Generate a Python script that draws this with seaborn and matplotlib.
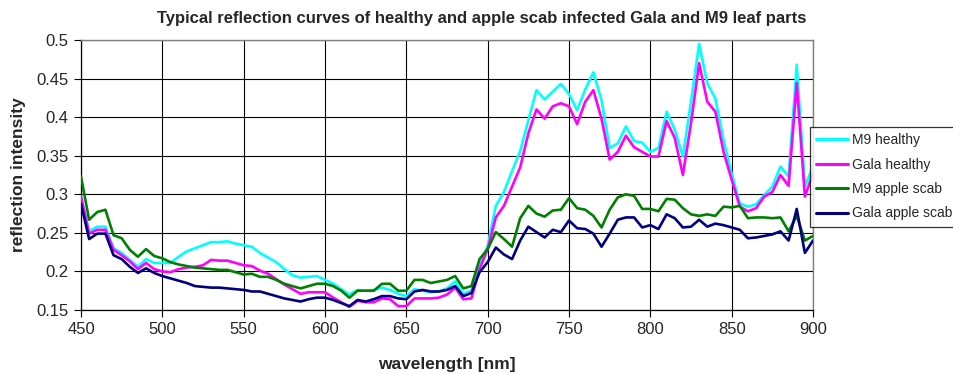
import numpy as np
import pandas as pd
import matplotlib
matplotlib.use("Agg")
import matplotlib.pyplot as plt
import seaborn as sns

wavelength = list(range(450, 901, 5))

m9_healthy = [
    0.297, 0.252, 0.258, 0.258, 0.230, 0.224, 0.215, 0.206, 0.216, 0.211,
    0.211, 0.211, 0.219, 0.226, 0.230, 0.234, 0.238, 0.238, 0.239, 0.236,
    0.234, 0.232, 0.224, 0.218, 0.212, 0.203, 0.195, 0.192, 0.193, 0.194,
    0.189, 0.184, 0.177, 0.170, 0.176, 0.175, 0.176, 0.179, 0.176, 0.171,
    0.168, 0.177, 0.175, 0.173, 0.174, 0.178, 0.187, 0.171, 0.175, 0.207,
    0.233, 0.285, 0.303, 0.330, 0.356, 0.396, 0.435, 0.423, 0.433, 0.443,
    0.430, 0.409, 0.436, 0.458, 0.422, 0.360, 0.366, 0.388, 0.369, 0.367,
    0.355, 0.360, 0.407, 0.384, 0.349, 0.420, 0.495, 0.444, 0.424, 0.370,
    0.327, 0.288, 0.284, 0.287, 0.299, 0.310, 0.336, 0.323, 0.468, 0.310,
    0.336,
]

gala_healthy = [
    0.297, 0.249, 0.254, 0.254, 0.228, 0.221, 0.213, 0.203, 0.211, 0.203,
    0.200, 0.199, 0.203, 0.205, 0.206, 0.208, 0.215, 0.214, 0.214, 0.211,
    0.208, 0.207, 0.201, 0.197, 0.190, 0.183, 0.177, 0.171, 0.173, 0.173,
    0.173, 0.166, 0.160, 0.154, 0.162, 0.160, 0.160, 0.165, 0.164, 0.155,
    0.155, 0.165, 0.165, 0.165, 0.166, 0.170, 0.179, 0.164, 0.165, 0.203,
    0.229, 0.270, 0.285, 0.310, 0.335, 0.379, 0.410, 0.398, 0.414, 0.418,
    0.414, 0.391, 0.420, 0.435, 0.398, 0.345, 0.355, 0.376, 0.361, 0.355,
    0.349, 0.349, 0.395, 0.373, 0.325, 0.392, 0.470, 0.420, 0.407, 0.355,
    0.319, 0.284, 0.278, 0.282, 0.297, 0.303, 0.325, 0.311, 0.444, 0.297,
    0.327,
]

m9_scab = [
    0.323, 0.267, 0.277, 0.280, 0.247, 0.243, 0.228, 0.219, 0.229, 0.220,
    0.217, 0.212, 0.209, 0.207, 0.205, 0.204, 0.203, 0.202, 0.202, 0.199,
    0.196, 0.197, 0.193, 0.193, 0.189, 0.184, 0.181, 0.178, 0.181, 0.184,
    0.184, 0.181, 0.175, 0.166, 0.175, 0.175, 0.175, 0.184, 0.184, 0.175,
    0.175, 0.189, 0.189, 0.185, 0.187, 0.189, 0.194, 0.178, 0.181, 0.216,
    0.229, 0.251, 0.242, 0.232, 0.269, 0.285, 0.275, 0.271, 0.279, 0.280,
    0.295, 0.282, 0.280, 0.272, 0.257, 0.280, 0.296, 0.300, 0.298, 0.281,
    0.281, 0.278, 0.294, 0.293, 0.282, 0.274, 0.272, 0.274, 0.272, 0.284,
    0.283, 0.285, 0.269, 0.270, 0.270, 0.269, 0.270, 0.252, 0.272, 0.240,
    0.246,
]

gala_scab = [
    0.288, 0.242, 0.249, 0.249, 0.221, 0.216, 0.206, 0.198, 0.204, 0.198,
    0.194, 0.191, 0.188, 0.185, 0.181, 0.180, 0.179, 0.179, 0.178, 0.177,
    0.176, 0.174, 0.174, 0.171, 0.168, 0.165, 0.163, 0.161, 0.164, 0.166,
    0.166, 0.163, 0.159, 0.155, 0.163, 0.161, 0.164, 0.168, 0.168, 0.165,
    0.164, 0.174, 0.176, 0.174, 0.174, 0.176, 0.181, 0.168, 0.172, 0.199,
    0.212, 0.231, 0.222, 0.216, 0.240, 0.258, 0.251, 0.244, 0.254, 0.251,
    0.266, 0.256, 0.255, 0.249, 0.232, 0.249, 0.267, 0.270, 0.270, 0.257,
    0.260, 0.255, 0.274, 0.269, 0.257, 0.258, 0.267, 0.258, 0.262, 0.260,
    0.257, 0.254, 0.243, 0.244, 0.246, 0.248, 0.252, 0.240, 0.281, 0.224,
    0.240,
]

series_names = ["M9 healthy", "Gala healthy", "M9 apple scab", "Gala apple scab"]
series_colors = ["#00FFFF", "#FF00FF", "#008000", "#000080"]
x_ticks = [450, 500, 550, 600, 650, 700, 750, 800, 850, 900]
y_ticks = [0.15, 0.2, 0.25, 0.3, 0.35, 0.4, 0.45, 0.5]
y_tick_labels = ["0.15", "0.2", "0.25", "0.3", "0.35", "0.4", "0.45", "0.5"]

frames = []
for name, vals in zip(series_names, [m9_healthy, gala_healthy, m9_scab, gala_scab]):
    frames.append(pd.DataFrame({"wavelength": wavelength, "value": vals, "series": name}))
df = pd.concat(frames, ignore_index=True)

sns.set_style("white")
plt.rcParams["font.family"] = ["Liberation Sans", "DejaVu Sans"]

fig = plt.figure(figsize=(9.54, 3.74), dpi=100)
ax = fig.add_axes([81 / 954, 64 / 374, 732 / 954, 270 / 374])

sns.lineplot(data=df, x="wavelength", y="value", hue="series",
             hue_order=series_names, palette=series_colors,
             linewidth=1.9, ax=ax, legend=False, zorder=3)

ax.set_xlim(450, 900)
ax.set_ylim(0.15, 0.5)
ax.set_xticks(x_ticks)
ax.set_xticklabels([str(t) for t in x_ticks])
ax.set_yticks(y_ticks)
ax.set_yticklabels(y_tick_labels)
ax.grid(True, color="black", linewidth=0.8, zorder=0)
ax.set_axisbelow(True)
ax.tick_params(axis="both", which="major", direction="out", length=5, width=0.8,
               color="black", labelsize=12, pad=4, bottom=True, left=True)
for s in ["left", "bottom"]:
    ax.spines[s].set_color("black")
    ax.spines[s].set_linewidth(0.9)
for s in ["top", "right"]:
    ax.spines[s].set_color("#808080")
    ax.spines[s].set_linewidth(1.0)

ax.set_xlabel("wavelength [nm]", fontsize=12.5, fontweight="bold", labelpad=14)
ax.set_ylabel("reflection intensity", fontsize=12.5, fontweight="bold", labelpad=7)

fig.text(482 / 954, 1 - 18 / 374,
         "Typical reflection curves of healthy and apple scab infected Gala and M9 leaf parts",
         ha="center", va="center", fontsize=12, fontweight="bold")

handles = [plt.Line2D([], [], color=c, linewidth=2.2) for c in series_colors]
leg = fig.legend(handles, series_names, loc="upper left",
                 bbox_to_anchor=(810 / 954, 1 - 127 / 374),
                 frameon=True, fancybox=False, shadow=False,
                 fontsize=10, handlelength=2.3, handletextpad=0.25,
                 labelspacing=0.75, borderpad=0.45, borderaxespad=0)
leg.get_frame().set_edgecolor("black")
leg.get_frame().set_linewidth(0.9)
leg.get_frame().set_facecolor("white")

fig.savefig("out.png", dpi=100)
